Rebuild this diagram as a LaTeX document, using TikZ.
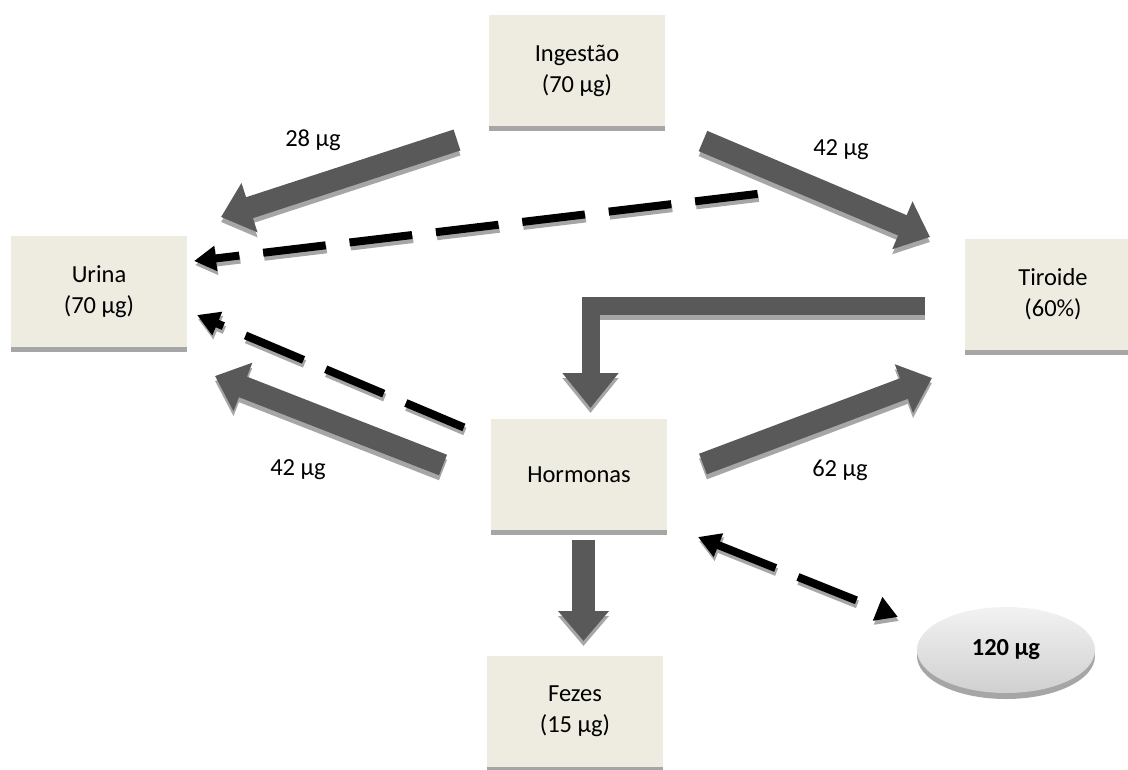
\documentclass[tikz,border=0pt]{standalone}
\usepackage{fontspec}
\setmainfont{Carlito}
\usetikzlibrary{arrows.meta,shapes.geometric}
\definecolor{boxfill}{HTML}{EEECE1}
\definecolor{barcol}{HTML}{A6A6A6}
\definecolor{arrgrey}{HTML}{595959}
\definecolor{shgrey}{HTML}{A6A6A6}
\definecolor{elltop}{HTML}{F2F2F2}
\definecolor{ellbot}{HTML}{D0D0D0}
\newcommand\lab{\fontsize{24.5pt}{31pt}\selectfont}
\tikzset{
  box/.style={rectangle, fill=boxfill, minimum width=176pt, minimum height=111pt, inner sep=0pt, align=center, font=\lab},
  bar/.style={fill=barcol},
  qty/.style={font=\lab, anchor=base, inner sep=0pt},
  pool/.style={ellipse, minimum width=178pt, minimum height=86pt, inner sep=0pt, top color=elltop, bottom color=ellbot, font=\lab\bfseries},
  blk/.style={line width=22pt, line cap=butt, line join=miter, -{Triangle[width=50pt,length=30pt]}},
  dsh/.style={line width=8pt, line cap=butt, dash pattern=on 63pt off 24pt},
  dtip/.tip={Triangle[width=24pt,length=22pt]}
}
\newcommand\blockarrow[3][]{%
  \draw[blk, draw=shgrey, #1] ([shift={(0,5)}]#2) -- ([shift={(0,5)}]#3);
  \draw[blk, draw=arrgrey, #1] (#2) -- (#3);
}
\newcommand\dasharrow[3][]{%
  \draw[dsh, draw=shgrey, #1] ([shift={(1,4)}]#2) -- ([shift={(1,4)}]#3);
  \draw[dsh, draw=black, #1] (#2) -- (#3);
}
\begin{document}
\begin{tikzpicture}[x=1pt,y=-1pt]
\clip (0,0) rectangle (1128,769);
\fill[white] (0,0) rectangle (1128,769);

% boxes
\node[box] (ing) at (577,70.5) {Ingestão\\(70 µg)};
\fill[bar] (ing.south west) rectangle ++(176,5);
\node[box] (uri) at (99,291.5) {Urina\\(70 µg)};
\fill[bar] (uri.south west) rectangle ++(176,5);
\node[box] (tir) at (1053,294.5) {Tiroide\\(60\%)};
\fill[bar] (tir.south west) rectangle ++(176,5);
\node[box] (hor) at (579,474.5) {Hormonas};
\fill[bar] (hor.south west) rectangle ++(176,5);
\node[box] (fez) at (575,711.5) {Fezes\\(15 µg)};
\fill[bar] (fez.south west) rectangle ++(176,5);

% pool
\fill[barcol] (1006,656) ellipse [x radius=89, y radius=43];
\node[pool] (res) at (1006,650) {120 µg};

% coordinates of arrow ends
\coordinate (a1s) at (457,140); \coordinate (a1e) at (221,217);
\coordinate (a2s) at (703,141); \coordinate (a2e) at (930,237);
\coordinate (a3s) at (925,306); \coordinate (a3e) at (590.5,408);
\coordinate (a4s) at (703,464); \coordinate (a4e) at (932,378);
\coordinate (a5s) at (443,465); \coordinate (a5e) at (215,376);
\coordinate (a7s) at (583.5,540); \coordinate (a7e) at (583.5,641);
\coordinate (d1s) at (765,193); \coordinate (d1e) at (194,261);
\coordinate (d2s) at (470,430); \coordinate (d2e) at (197,315);
\coordinate (d3a) at (698,537); \coordinate (d3b) at (898,617);

% block arrows
\blockarrow{a1s}{a1e}
\blockarrow{a2s}{a2e}
\draw[blk, line width=18pt, -{Triangle[width=54pt,length=35pt]}, draw=shgrey] ([shift={(0,5)}]a3s) -| ([shift={(0,5)}]a3e);
\draw[blk, line width=18pt, -{Triangle[width=54pt,length=35pt]}, draw=arrgrey] (a3s) -| (a3e);
\blockarrow{a4s}{a4e}
\blockarrow{a5s}{a5e}
\blockarrow[line width=23pt, -{Triangle[width=49pt,length=30pt]}]{a7s}{a7e}

% dashed arrows
\dasharrow[dtip-, dash phase=38pt]{d1e}{d1s}
\dasharrow[dtip-, dash phase=55pt]{d2e}{d2s}
\dasharrow[dtip-dtip, dash phase=0pt]{d3a}{d3b}

% labels
\node[qty] (l28) at (313,146) {28 µg};
\node[qty] (l42a) at (841,155) {42 µg};
\node[qty] (l62) at (840,476) {62 µg};
\node[qty] (l42b) at (298,475) {42 µg};
\end{tikzpicture}
\end{document}
